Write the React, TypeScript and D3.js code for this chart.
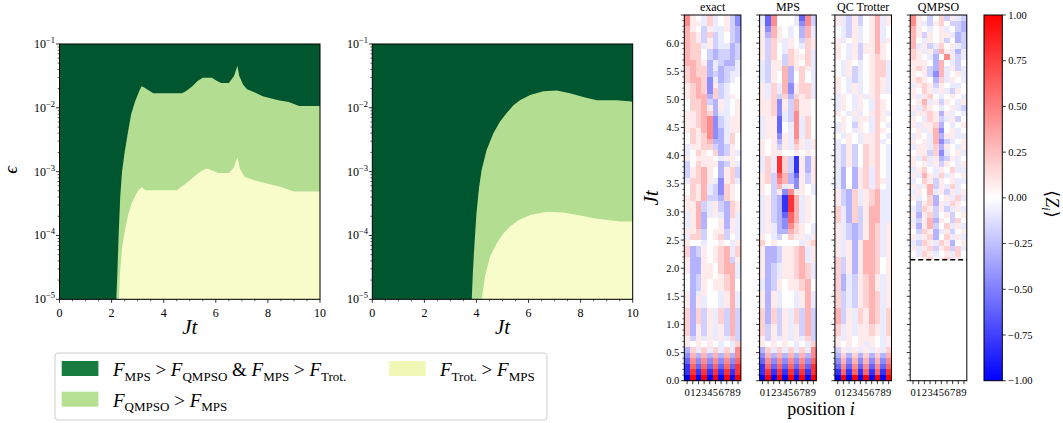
import React from 'react';
import * as d3 from 'd3';

const FONT = '"Liberation Serif", "DejaVu Serif", serif';

// ---------------- Phase diagrams: boundaries as [Jt, log10(eps)] ----------------
const jtMajor = [0, 2, 4, 6, 8, 10];
const epsDecades = [-5, -4, -3, -2, -1];

// left panel: dark -> light green boundary
const upperLeft: [number, number][] = [
  [2.18, -5], [2.22, -4.6], [2.27, -4.0], [2.33, -3.4], [2.4, -3.0], [2.5, -2.7], [2.6, -2.45],
  [2.75, -2.1], [2.9, -1.9], [3.05, -1.75], [3.15, -1.66], [3.25, -1.68], [3.4, -1.72], [3.6, -1.77],
  [4.7, -1.77], [4.85, -1.74], [5.1, -1.66], [5.3, -1.58], [5.5, -1.53], [5.85, -1.53], [6.05, -1.58],
  [6.2, -1.61], [6.5, -1.61], [6.7, -1.5], [6.83, -1.34], [6.9, -1.5], [7.05, -1.64], [7.2, -1.71],
  [7.5, -1.76], [7.8, -1.82], [8.4, -1.88], [8.8, -1.91], [9.2, -1.97], [10, -1.97],
];
// left panel: light green -> yellow boundary
const lowerLeft: [number, number][] = [
  [2.28, -5], [2.32, -4.6], [2.4, -4.2], [2.51, -3.92], [2.65, -3.65], [2.77, -3.5], [2.9, -3.38],
  [3.03, -3.29], [3.15, -3.24], [3.3, -3.29], [4.5, -3.29], [4.8, -3.2], [5.1, -3.1], [5.4, -3.0],
  [5.65, -2.95], [5.85, -2.98], [6.1, -3.02], [6.5, -3.02], [6.7, -2.93], [6.83, -2.77], [6.92, -2.95],
  [7.1, -3.08], [7.5, -3.14], [8.0, -3.19], [8.5, -3.24], [9.0, -3.31], [10, -3.31],
];
// right panel
const upperRight: [number, number][] = [
  [3.82, -5], [3.86, -4.6], [3.9, -4.3], [4.0, -3.65], [4.1, -3.25], [4.2, -2.97], [4.39, -2.66],
  [4.65, -2.4], [4.9, -2.22], [5.16, -2.08], [5.42, -1.96], [5.67, -1.88], [6.06, -1.8], [6.57, -1.74],
  [7.08, -1.73], [7.59, -1.77], [8.1, -1.83], [8.62, -1.88], [9.39, -1.88], [9.96, -1.9], [10, -1.93],
];
const lowerRight: [number, number][] = [
  [4.2, -5], [4.33, -4.64], [4.52, -4.33], [4.78, -4.12], [5.03, -3.97], [5.29, -3.86], [5.61, -3.76],
  [6.06, -3.68], [6.7, -3.63], [7.34, -3.64], [7.9, -3.68], [8.49, -3.73], [9.51, -3.78], [10, -3.78],
];

// ---------------- Heatmaps <Z_i>, rows listed from top (Jt=6.4) to bottom (Jt=0.0) ----------------
const LEVEL: Record<string, number> = {
  a: -1, b: -0.8, c: -0.6, d: -0.45, e: -0.3, f: -0.18, g: -0.08, '.': 0,
  G: 0.08, F: 0.18, E: 0.3, D: 0.45, C: 0.6, B: 0.8, A: 1,
};
const positions = [0, 1, 2, 3, 4, 5, 6, 7, 8, 9];
const panelTitles = ['exact', 'MPS', 'QC Trotter', 'QMPSO'];
const timeTicks = [0, 0.5, 1, 1.5, 2, 2.5, 3, 3.5, 4, 4.5, 5, 5.5, 6];
const cbarTicks = [-1, -0.75, -0.5, -0.25, 0, 0.25, 0.5, 0.75, 1];
const qmpsoStart = 2.15;

const exactRows = [
  'DG.gFg.Gfd', 'DGGgFg.Gfd', 'EG.fGggGfe',
  'EFGfFfg.fe', 'EFGfGfg.fe', 'EFFgGfggef',
  'EFF.feffef', 'EFF.feffef', 'EEFGegfeeg',
  'FEFFegeffg', 'FEFFefefgg', 'FEEFdgefg.',
  'GFEFdGfg..', 'GFEFdFfg..', 'GFEEeFfgG.',
  '.FFEfeGg.G', '.FFEGeGg.G', 'GGFEFegg.G',
  'GGFEDdfgGG', 'GGFEDdfgGG', 'GFGEDdegGG',
  '.FGFDdegF.', '.FGFEeegF.', 'gGGFFfefG.',
  'g.FG.FefGg', 'G.GGG.gGG.', 'f.FGGGefGg',
  'fGFEG.eGFf', 'fGFEG.eGFf', 'gFFEGgdGFg',
  '.FGEgfdFG.', '.FGEgfdFG.', 'GFGEffeFG.',
  'GGEfgGfeFG', 'GGEfgGfeFG', 'gGEegGgeFg',
  'gGEe..GeGg', 'gGEe..GeGg', 'GGFf.GGfGg',
  'gFFf.GFf.g',
  'G..g..G.gG',
  'FefG.GFEgF', 'FefG.GFEgF', 'GeeG.GFEfG',
  'GeeGG.FEEg', 'GeeGG.FEEg', '.efGG.GFEg',
  '.efG.GGFE.', '.efG.GGFE.', 'GegG..gGEg',
  'GeGg..gGEg', 'GeGg..gGEg', 'FeFfGgFfEf',
  'FeFfGgFfEf', 'FeFfGgFfEf', 'FeGfGgGfEf',
  'FeGfGgGfEf', 'GfGgGgGgFf',
  'G.G.G.g.gF',
  'eFgFgFgFgD', 'dEeEeEeEeD', 'cDdDdDdDdC', 'bCcCcCcCcB', 'bBbBbBbBbB', 'aAaAaAaAaA',
];

const mpsRows = [
  'gcD...gcDf', 'gcD...gdDf', 'GdEG.g.eEg',
  'GeEG.g.eEg', 'GfFGgG.fFG', 'GfF.gG.gFG',
  'GfF.gFG.Fg', 'GfF.fFGGFg', 'gfGGfFG.Fg',
  'gfGGEeGFGg', 'gfG.Ee.F.g', 'gfG.Ee.F.g',
  'GgFgEdGFFg', 'GgFgEdGFFg', 'GgFfFeFGFg',
  'GGFdGfEGG.', 'GGFdGfEGG.', 'GGFdgfDGG.',
  'gGGcgfDgF.', 'gGGc.gDgF.', 'gGGc.gDgF.',
  'gGGdGgDgF.', 'G.GeGgEGgG', 'G.GfGgFGgG',
  'G.GG..G.G.',
  'gFgBFfbGeG', 'gFgBFfbGeG', 'gFgBFfbGeG',
  'GFfCEecGfG', 'GFfDEedGfG', 'G.fEgGdG.g',
  'G.fGdDGG.g', 'gGfebBEgG.', 'gGfebBEgG.',
  'gGfebBEgG.', 'gGfecCEgG.', 'gGfedCEgG.',
  'gGgedDFG.g', 'gGgeeEFG.g', 'G.gf.FGGgG',
  'F.G....gGF',
  'GeefGGFEgG', 'GeefGGFEgG', 'GeefGGFEgG',
  'GefgGGFEFg', 'GefgGGFEFg', 'GefgGGFEFg',
  'gefG.GGFE.', 'gefG.GGFE.', 'GeGg..gGEg',
  'GeGg..gGEg', 'GeGg..gGEg', 'FeFfGgFfEf',
  'FeFfGgFfEf', 'FeFfGgFfEf', 'FfGfGgGfEf',
  'FfGfGgGfEf', 'GfGgGgGgFf',
  'G.G.G.g.gF',
  'eFgFgFgFgD', 'dEeEeEeEeD', 'cDdDdDdDdC', 'bCcCcCcCcB', 'bBbBbBbBbB', 'aAaAaAaAaA',
];

const trotterRows = [
  'GgfGf.GEgG', 'GgfGf.GEgG', '.gfGg.GEg.', '.gfGg.GEg.', 'Gg.Gg.GEgG',
  'G.gGfGGEG.', 'G.gGfGGEG.', 'G.gGf.GFG.', '.gG.g.GFFg', '.gGfg.GFFg',
  '.gGfg.GFFg', 'G.gfg.GFGg', 'G.gGg.GFGg', 'G.gGg.GFGg', 'gG.gGgGF..',
  'gG.gG.gFG.', 'gG.gG.gFG.', 'G.gGg.GFGg', '.G.gGGgFG.', 'gG.fG.gF.g',
  'gG.gG.gFG.', '.gG.gGGF.g', 'g.G.gGGFg.', 'gfGf.FGF.g', 'gfGf.FGF.g',
  'gfGf.FGF.g', 'gfGf.FGF.g', 'ge.eGFgF.g', 'ge.eGFgF.g', 'ge.eGFgFGg',
  'ge.eGFgF.g', 'GfeFgGFEgg', 'GfeFgGFEgg', 'GfeFgGFEgg', 'FgeFfGEEgg',
  'FgeFfGEEgg', 'FgeFfGEEgg', 'GgfefGEFgG', 'GgfefGEFgG', 'GgfefGEFgG',
  'GgGeGEEFgG', 'GgGeGEEFgG', 'GgGeGEEFgG', 'FfGeGEEF.G', 'FfGeGEEF.G',
  'FfGeGEEF.G', 'FegfGFEGgG', 'FegfGFEGgG', 'FegfGFEGgG', 'FfgfGFEFgG',
  'FfgfGFEFgG', 'FfgfGFEFgG', 'EfGgFGEFgF', 'EfGgFGEFgF', 'EfGgFGEFgF',
  'FgGgGGFGgF', 'FgGgGGFGgF', 'GgG.GGG.gG',
  'G.G.GgG.gG',
  'fGgGgGgGgF', 'eFeFeFeFeE', 'dEdEdEdEdD', 'cDcDcDcDcC', 'bCbCbCbCbB', 'aAaAaAaAaA',
];

// QMPSO only available for Jt >= 2.15 (rows Jt=6.4 down to Jt=2.1)
const qmpsoRows = [
  'DG.f.FfGgf', 'DGgfGF.ffe', 'EG.g.Gg.fe', 'EGfG.GGgef', 'E.gG.Gf.ef',
  'EgGfgF.Ggf', 'FGgGfEGgeg', 'FG.ge.DGfg', 'GGG.eE.gf.', 'GFGfeEgGfg',
  'G.GfdEg.Gg', 'GFG.eFgG.g', 'gGFGfG.gg.', 'G.FGgGgfG.', 'GgGF.g.G.g',
  '.GEgGfG.gG', 'GgFG.g.Ggf', 'gGGFGeGg.g', 'G.gFGfgGf.', 'GgGGFe.g.G',
  '.GgGEd.Gg.', 'gG.gEeGGgg', 'G.GgEdfg.G', 'gGGgFeG.gG', '.GGfFdg.Gg',
  'GgFgGefGg.', 'G.GgGfG.gG', 'gGF.gG.Fgg', 'GgEGgFgG.G', 'g.FGfG.Ggg',
  'GgGEfGgFg.', 'gG.EgGfGgG', 'Gg.Fe.GgFg', '.fGFeGgFG.', 'gfFGfGfgGg',
  'GeGFf.Gf.G', 'gfGEeG.fF.', 'GeGEf.FgGg', '.fFGegGf.G', 'GgGFe.FgGg',
  'gfFGgFGe.G', 'GgGFfGFfFg', '.gFGg.GgF.', 'G.GF.GFgG.',
];

const panelData = [exactRows, mpsRows, trotterRows, qmpsoRows];

// ---------------- colours ----------------
const DARK = '#00572f';
const LIGHT = '#b3de91';
const YELLOW = '#f8fccb';
const bwr = d3.scaleLinear<string>().domain([-1, 0, 1]).range(['#0000ff', '#ffffff', '#ff0000']).clamp(true);

// ---------------- layout ----------------
const PLOT_TOP = 44;
const PLOT_BOTTOM = 299.3;
const HM_TOP = 15;
const HM_BOTTOM = 380.7;
const HM_LEFTS = [684.3, 759.6, 834.9, 910.2];
const HM_W = 56.6;
const CB_X = 984;
const CB_W = 18.3;

type Part = { t: string; it?: boolean; sub?: boolean };

function MathText({ x, y, parts, size, subSize, anchor }: { x: number; y: number; parts: Part[]; size: number; subSize: number; anchor?: string }) {
  const shift = size * 0.25;
  let cur = 0;
  const spans = parts.map((p, i) => {
    const target = p.sub ? shift : 0;
    const dy = target - cur;
    cur = target;
    return (
      <tspan key={i} dy={dy} fontStyle={p.it ? 'italic' : 'normal'} fontSize={p.sub ? subSize : size}>
        {p.t}
      </tspan>
    );
  });
  return (
    <text x={x} y={y} fontFamily={FONT} fontSize={size} textAnchor={anchor || 'start'} fill="#000">
      {spans}
    </text>
  );
}

function PhasePanel({ x0, x1, upper, lower, yLabelX }: { x0: number; x1: number; upper: [number, number][]; lower: [number, number][]; yLabelX: number }) {
  const x = d3.scaleLinear().domain([0, 10]).range([x0, x1]);
  const y = d3.scaleLog().domain([1e-5, 1e-1]).range([PLOT_BOTTOM, PLOT_TOP]);
  const area = d3
    .area<[number, number]>()
    .x((d) => x(d[0]))
    .y0(y(1e-5))
    .y1((d) => y(Math.pow(10, d[1])));
  const xMinor = d3.range(0, 10.01, 0.5).filter((v) => Math.abs(v % 2) > 1e-6);
  const yMinor: number[] = [];
  for (let k = -5; k <= -2; k++) for (let m = 2; m <= 9; m++) yMinor.push(m * Math.pow(10, k));
  return (
    <g>
      <rect x={x0} y={PLOT_TOP} width={x1 - x0} height={PLOT_BOTTOM - PLOT_TOP} fill={DARK} />
      <path d={area(upper) || ''} fill={LIGHT} />
      <path d={area(lower) || ''} fill={YELLOW} />
      <rect x={x0} y={PLOT_TOP} width={x1 - x0} height={PLOT_BOTTOM - PLOT_TOP} fill="none" stroke="#000" strokeWidth={1} />
      {jtMajor.map((v) => (
        <g key={'xm' + v}>
          <line x1={x(v)} x2={x(v)} y1={PLOT_BOTTOM} y2={PLOT_BOTTOM + 3.5} stroke="#000" strokeWidth={0.8} />
          <text x={x(v)} y={PLOT_BOTTOM + 18} fontFamily={FONT} fontSize={12} textAnchor="middle">
            {v}
          </text>
        </g>
      ))}
      {xMinor.map((v) => (
        <line key={'xn' + v} x1={x(v)} x2={x(v)} y1={PLOT_BOTTOM} y2={PLOT_BOTTOM + 2} stroke="#000" strokeWidth={0.6} />
      ))}
      {epsDecades.map((k) => (
        <g key={'ym' + k}>
          <line x1={x0 - 3.5} x2={x0} y1={y(Math.pow(10, k))} y2={y(Math.pow(10, k))} stroke="#000" strokeWidth={0.8} />
          <text x={yLabelX} y={y(Math.pow(10, k)) + 4} fontFamily={FONT} fontSize={12} textAnchor="end">
            10
            <tspan dy={-5} fontSize={8.5}>
              {'\u2212' + Math.abs(k)}
            </tspan>
          </text>
        </g>
      ))}
      {yMinor.map((v, i) => (
        <line key={'yn' + i} x1={x0 - 2} x2={x0} y1={y(v)} y2={y(v)} stroke="#000" strokeWidth={0.6} />
      ))}
      <text x={(x0 + x1) / 2} y={334} fontFamily={FONT} fontSize={21} fontStyle="italic" textAnchor="middle">
        Jt
      </text>
    </g>
  );
}

function HeatPanel({ idx }: { idx: number }) {
  const left = HM_LEFTS[idx];
  const rows = panelData[idx];
  const y = d3.scaleLinear().domain([0, 6.5]).range([HM_BOTTOM, HM_TOP]);
  const x = d3.scaleBand<number>().domain(positions).range([left, left + HM_W]);
  const isQ = idx === 3;
  const cells: JSX.Element[] = [];
  rows.forEach((row, r) => {
    const step = 64 - r; // time index of this row
    const t0 = step / 10;
    const t1 = (step + 1) / 10;
    const bottomT = isQ ? Math.max(t0, qmpsoStart) : t0;
    if (isQ && t1 <= qmpsoStart) return;
    positions.forEach((p) => {
      const ch = row.charAt(p) || '.';
      const v = LEVEL[ch] ?? 0;
      cells.push(
        <rect
          key={r + '-' + p}
          x={x(p)}
          y={y(t1)}
          width={x.bandwidth() + 0.3}
          height={y(bottomT) - y(t1) + 0.3}
          fill={bwr(v)}
        />
      );
    });
  });
  const ticks = d3.range(0, 66).map((i) => i / 10);
  return (
    <g>
      <rect x={left} y={HM_TOP} width={HM_W} height={HM_BOTTOM - HM_TOP} fill="#fff" />
      <g shapeRendering="crispEdges">{cells}</g>
      {isQ && (
        <line x1={left} x2={left + HM_W} y1={y(qmpsoStart)} y2={y(qmpsoStart)} stroke="#000" strokeWidth={1.6} strokeDasharray="5,3" />
      )}
      <rect x={left} y={HM_TOP} width={HM_W} height={HM_BOTTOM - HM_TOP} fill="none" stroke="#000" strokeWidth={1} />
      {ticks.map((t, i) => {
        const major = i % 5 === 0;
        return (
          <line key={'t' + i} x1={left - (major ? 3.5 : 2)} x2={left} y1={y(t)} y2={y(t)} stroke="#000" strokeWidth={major ? 0.8 : 0.6} />
        );
      })}
      {idx === 0 &&
        timeTicks.map((t) => (
          <text key={'tl' + t} x={left - 5} y={y(t) + 3.6} fontFamily={FONT} fontSize={10.5} textAnchor="end">
            {t.toFixed(1)}
          </text>
        ))}
      {positions.map((p) => {
        const cx = (x(p) as number) + x.bandwidth() / 2;
        return (
          <g key={'p' + p}>
            <line x1={cx} x2={cx} y1={HM_BOTTOM} y2={HM_BOTTOM + 3.5} stroke="#000" strokeWidth={0.8} />
            <text x={cx} y={396} fontFamily={FONT} fontSize={10.5} textAnchor="middle">
              {p}
            </text>
          </g>
        );
      })}
      <text x={left + HM_W / 2} y={11} fontFamily={FONT} fontSize={12} textAnchor="middle">
        {panelTitles[idx]}
      </text>
    </g>
  );
}

function Colorbar() {
  const y = d3.scaleLinear().domain([-1, 1]).range([HM_BOTTOM, HM_TOP]);
  const stops = d3.range(0, 1.0001, 0.1);
  const fmt = d3.format('.2f');
  return (
    <g>
      <defs>
        <linearGradient id="cbgrad" x1="0" y1="1" x2="0" y2="0">
          {stops.map((s) => (
            <stop key={s} offset={s} stopColor={bwr(-1 + 2 * s)} />
          ))}
        </linearGradient>
      </defs>
      <rect x={CB_X} y={HM_TOP} width={CB_W} height={HM_BOTTOM - HM_TOP} fill="url(#cbgrad)" stroke="#000" strokeWidth={1} />
      {cbarTicks.map((v) => (
        <g key={v}>
          <line x1={CB_X + CB_W} x2={CB_X + CB_W + 3.5} y1={y(v)} y2={y(v)} stroke="#000" strokeWidth={0.8} />
          <text x={CB_X + CB_W + 6} y={y(v) + 3.6} fontFamily={FONT} fontSize={10.5}>
            {fmt(v)}
          </text>
        </g>
      ))}
      <g transform={`translate(1046, 204) rotate(90)`}>
        <text x={0} y={0} fontFamily={FONT} fontSize={18} textAnchor="middle">
          <tspan>{'\u27E8'}</tspan>
          <tspan fontStyle="italic">Z</tspan>
          <tspan fontStyle="italic" fontSize={12} dy={4}>
            i
          </tspan>
          <tspan dy={-4}>{'\u27E9'}</tspan>
        </text>
      </g>
    </g>
  );
}

function Legend() {
  const size = 19;
  const sub = 13;
  return (
    <g>
      <rect x={55} y={353} width={492} height={67} rx={3} fill="#fff" stroke="#cccccc" strokeWidth={1} />
      <rect x={61.7} y={361} width={36.7} height={15} fill="#187b40" />
      <rect x={61.7} y={391.7} width={36.7} height={15} fill="#b6e192" />
      <rect x={389} y={361} width={36.7} height={15} fill="#f1f7b5" />
      <MathText
        x={113}
        y={376}
        size={size}
        subSize={sub}
        parts={[
          { t: 'F', it: true }, { t: 'MPS', sub: true }, { t: ' > ' },
          { t: 'F', it: true }, { t: 'QMPSO', sub: true }, { t: ' & ' },
          { t: 'F', it: true }, { t: 'MPS', sub: true }, { t: ' > ' },
          { t: 'F', it: true }, { t: 'Trot.', sub: true },
        ]}
      />
      <MathText
        x={113}
        y={406.5}
        size={size}
        subSize={sub}
        parts={[{ t: 'F', it: true }, { t: 'QMPSO', sub: true }, { t: ' > ' }, { t: 'F', it: true }, { t: 'MPS', sub: true }]}
      />
      <MathText
        x={440}
        y={376}
        size={size}
        subSize={sub}
        parts={[{ t: 'F', it: true }, { t: 'Trot.', sub: true }, { t: ' > ' }, { t: 'F', it: true }, { t: 'MPS', sub: true }]}
      />
    </g>
  );
}

export default function App() {
  return (
    <svg
      width={1063}
      height={423}
      viewBox="0 0 1063 423"
      style={{ position: 'absolute', left: 0, top: 0, background: '#fff' }}
    >
      <rect x={0} y={0} width={1063} height={423} fill="#fff" />
      <PhasePanel x0={59.5} x1={320} upper={upperLeft} lower={lowerLeft} yLabelX={55} />
      <PhasePanel x0={372.3} x1={632.7} upper={upperRight} lower={lowerRight} yLabelX={368} />
      <text transform="translate(17, 170) rotate(-90)" fontFamily={FONT} fontSize={19} fontStyle="italic" textAnchor="middle">
        {'\u03F5'}
      </text>
      <Legend />
      {[0, 1, 2, 3].map((i) => (
        <HeatPanel key={i} idx={i} />
      ))}
      <text transform="translate(658, 198) rotate(-90)" fontFamily={FONT} fontSize={21} fontStyle="italic" textAnchor="middle">
        Jt
      </text>
      <text x={821} y={415} fontFamily={FONT} fontSize={18} textAnchor="middle">
        position <tspan fontStyle="italic">i</tspan>
      </text>
      <Colorbar />
    </svg>
  );
}
